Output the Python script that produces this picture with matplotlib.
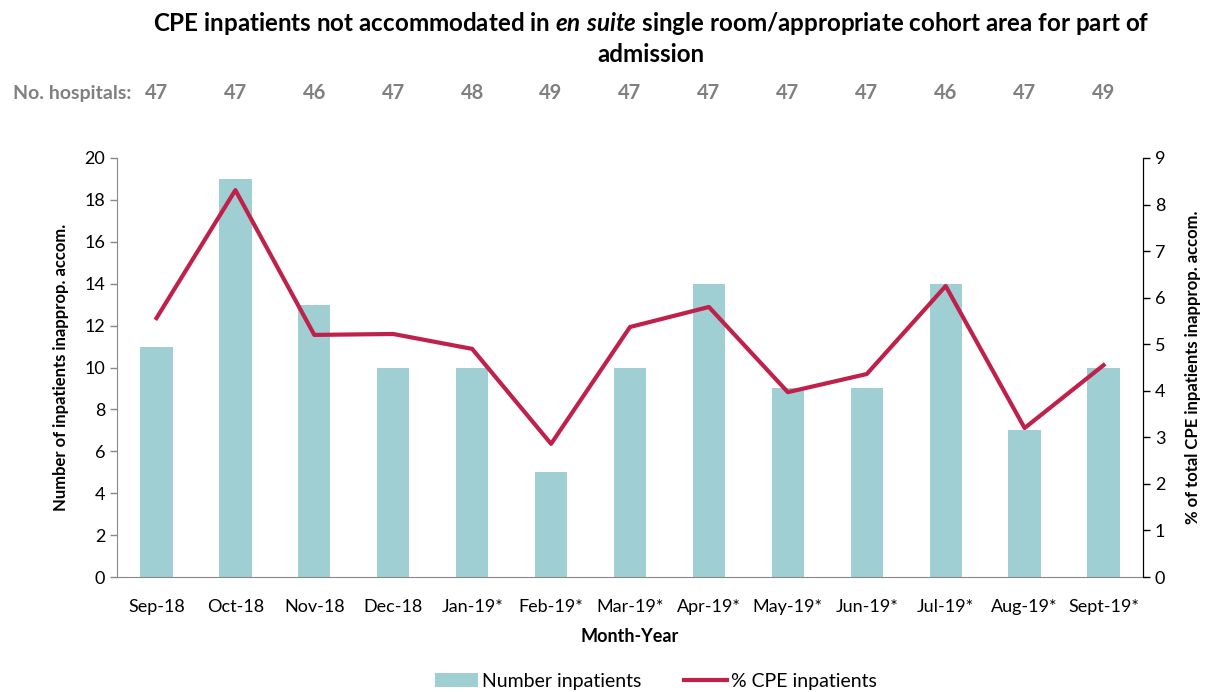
import matplotlib.pyplot as plt
import matplotlib.transforms as mtransforms

plt.rcParams['font.family'] = ['Lato', 'DejaVu Sans']
plt.rcParams['mathtext.fontset'] = 'custom'
plt.rcParams['mathtext.it'] = 'Lato:italic:bold'
plt.rcParams['mathtext.rm'] = 'Lato:bold'

months = ["Sep-18", "Oct-18", "Nov-18", "Dec-18", "Jan-19*", "Feb-19*", "Mar-19*",
          "Apr-19*", "May-19*", "Jun-19*", "Jul-19*", "Aug-19*", "Sept-19*"]
n_inpatients = [11, 19, 13, 10, 10, 5, 10, 14, 9, 9, 14, 7, 10]
pct_cpe = [5.56, 8.31, 5.2, 5.22, 4.9, 2.86, 5.37, 5.8, 3.97, 4.36, 6.25, 3.2, 4.55]
n_hospitals = [47, 47, 46, 47, 48, 49, 47, 47, 47, 47, 46, 47, 49]

bar_color = "#9FCED3"
line_color = "#C0214B"

fig = plt.figure(figsize=(12.12, 6.92), dpi=100)
ax = fig.add_axes([117 / 1212, 1 - 577 / 692, (1143 - 117) / 1212, (577 - 158) / 692])
ax2 = ax.twinx()

x = list(range(len(months)))
bars = ax.bar(x, n_inpatients, width=0.41, color=bar_color, label="Number inpatients")
line, = ax2.plot(x, pct_cpe, color=line_color, lw=3, label="% CPE inpatients")

ax.set_xlim(-0.5, len(months) - 0.5)
ax.set_ylim(0, 20)
ax.set_yticks(range(0, 21, 2))
ax2.set_ylim(0, 9)
ax2.set_yticks(range(0, 10))

ax.set_xticks(x)
ax.set_xticklabels(months)
for a in (ax, ax2):
    a.tick_params(labelsize=13, colors="#000000", direction="out", length=5, width=1)
    a.spines["top"].set_visible(False)
ax.tick_params(axis="x", length=0, pad=16)
ax.spines["left"].set_color("#888888")
ax.tick_params(axis="y", color="#888888")
ax2.spines["left"].set_visible(False)
ax2.spines["bottom"].set_visible(False)
ax2.spines["right"].set_color("#000000")
ax.spines["bottom"].set_color("#888888")

ax.set_xlabel("Month-Year", fontsize=13, fontweight="bold", labelpad=9)
ax.set_ylabel("Number of inpatients inapprop. accom.", fontsize=12, fontweight="bold",
              labelpad=11)
ax2.set_ylabel("% of total CPE inpatients inapprop. accom.", fontsize=12, fontweight="bold",
               labelpad=14)

fig.text(651 / 1212, 1 - 38 / 692,
         "CPE inpatients not accommodated in $\\it{en\\ suite}$ single room/appropriate cohort area for part of\nadmission",
         ha="center", va="center", fontsize=17.4, fontweight="bold", linespacing=1.3)

# hospital counts above the plot
trans = mtransforms.blended_transform_factory(ax.transData, fig.transFigure)
fig.text(131 / 1212, 1 - 94 / 692, "No. hospitals:", ha="right", va="center",
         fontsize=14, fontweight="bold", color="#808080")
for i, n in enumerate(n_hospitals):
    ax.text(i, 1 - 93 / 692, str(n), transform=trans, ha="center", va="center",
            fontsize=14.5, fontweight="bold", color="#808080")

fig.legend(handles=[bars, line], loc="center", bbox_to_anchor=(656 / 1212, 1 - 681 / 692),
           ncol=2, frameon=False, fontsize=14, handlelength=2.2, columnspacing=2.2,
           handletextpad=0.2)

fig.savefig("out.png", dpi=100)
